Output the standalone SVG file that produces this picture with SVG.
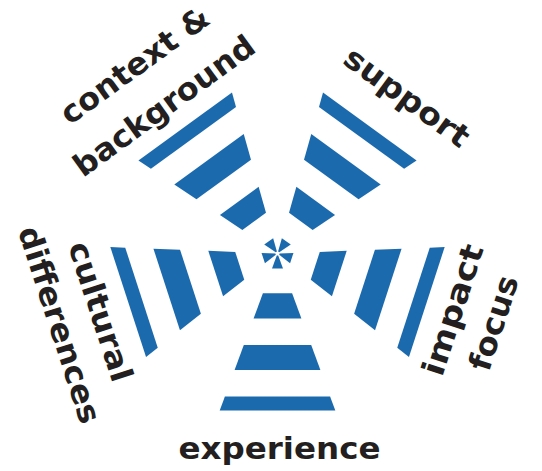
<svg xmlns="http://www.w3.org/2000/svg" width="542" height="471" viewBox="0 0 542 471">
<style>
.s{fill:#1b6aae}
.t{font-family:"DejaVu Sans","Liberation Sans",sans-serif;font-weight:700;font-size:31px;fill:#231f20;text-anchor:middle}
</style>
<defs>
<g id="stripes">
<polygon class="s" points="-14.6,39.7 14.6,39.7 23.9,65 -23.9,65"/>
<polygon class="s" points="-33.7,91.5 33.7,91.5 42.9,116.5 -42.9,116.5"/>
<polygon class="s" points="-52.6,143 52.6,143 57.8,157 -57.8,157"/>
</g>
<polygon id="mini" class="s" points="-0.7,2 0.7,2 5.5,15 -5.5,15"/>
</defs>
<rect width="542" height="471" fill="#fff"/>
<g id="center" transform="translate(277.5 253.5)">
<use href="#mini"/>
<use href="#mini" transform="rotate(72)"/>
<use href="#mini" transform="rotate(144)"/>
<use href="#mini" transform="rotate(216)"/>
<use href="#mini" transform="rotate(288)"/>
</g>
<g id="experience">
<use href="#stripes" transform="translate(277.5 253.5)"/>
<text class="t" x="279.5" y="459" textLength="202" lengthAdjust="spacingAndGlyphs">experience</text>
</g>
<g id="cultural-differences">
<use href="#stripes" transform="translate(277.5 253.5) rotate(72)"/>
<g transform="translate(90.3 314.8) rotate(72)">
<text class="t" x="0" y="0" textLength="145" lengthAdjust="spacingAndGlyphs">cultural</text>
<text class="t" x="0" y="43" textLength="205" lengthAdjust="spacingAndGlyphs">differences</text>
</g>
</g>
<g id="context-background">
<use href="#stripes" transform="translate(277.5 253.5) rotate(144)"/>
<g transform="translate(141 74) rotate(-36)">
<text class="t" x="0" y="0" textLength="176" lengthAdjust="spacingAndGlyphs">context &amp;</text>
<text class="t" x="0" y="50" textLength="216" lengthAdjust="spacingAndGlyphs">background</text>
</g>
</g>
<g id="support">
<use href="#stripes" transform="translate(277.5 253.5) rotate(216)"/>
<text class="t" transform="translate(400.6 105.7) rotate(36)" x="0" y="0" textLength="147" lengthAdjust="spacingAndGlyphs">support</text>
</g>
<g id="impact-focus">
<use href="#stripes" transform="translate(277.5 253.5) rotate(288)"/>
<g transform="translate(463 313) rotate(-72)">
<text class="t" x="0" y="0" textLength="136" lengthAdjust="spacingAndGlyphs">impact</text>
<text class="t" x="0" y="43" textLength="98" lengthAdjust="spacingAndGlyphs">focus</text>
</g>
</g>
<g id="connectors"/>
</svg>
